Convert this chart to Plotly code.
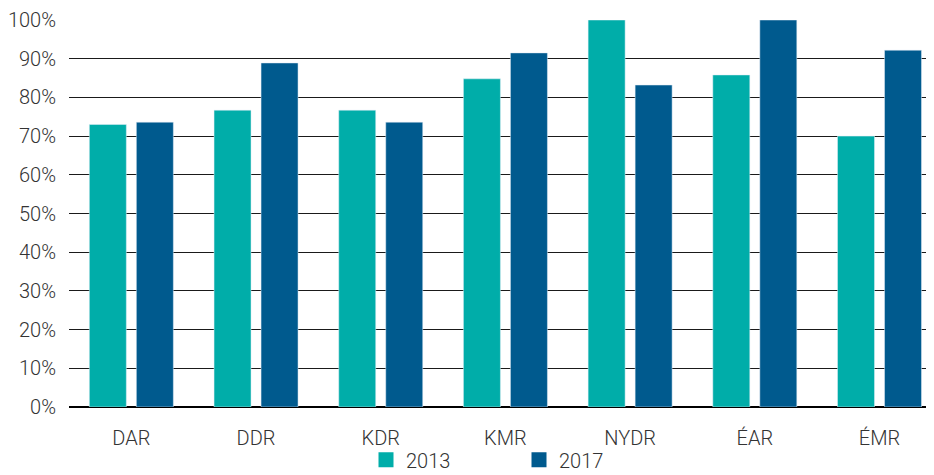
import plotly.graph_objects as go

categories = ["DAR", "DDR", "KDR", "KMR", "NYDR", "ÉAR", "ÉMR"]
values_2013 = [73.0, 76.7, 76.7, 84.8, 100.0, 85.8, 70.0]
values_2017 = [73.6, 88.9, 73.6, 91.5, 83.2, 100.0, 92.2]
series_names = ["2013", "2017"]
series_colors = ["#00ADA9", "#005A8E"]
tick_vals = [0, 10, 20, 30, 40, 50, 60, 70, 80, 90, 100]
tick_text = [f"{v}%" for v in tick_vals]

fig = go.Figure()
for name, vals, col in zip(series_names, [values_2013, values_2017], series_colors):
    fig.add_trace(go.Bar(x=categories, y=vals, name=name, marker_color=col,
                         showlegend=False))
for name, col in zip(series_names, series_colors):
    fig.add_trace(go.Scatter(x=[None], y=[None], mode="markers", name=name,
                             marker=dict(symbol="square", size=15, color=col)))

font = dict(family="Roboto", size=20, color="#333333", weight=300)
# page body has an 8px margin, so the figure is 8px smaller and shifted
fig.update_layout(
    width=926, height=467,
    margin=dict(l=61, r=0, t=12, b=68, autoexpand=False),
    plot_bgcolor="white", paper_bgcolor="white",
    barmode="group", bargap=0.246, bargroupgap=0.213,
    font=font,
    showlegend=True,
    legend=dict(orientation="h", x=(366 - 69) / 865, xanchor="left", y=-0.086, yanchor="top",
                font=font, entrywidth=108, entrywidthmode="pixels",
                itemwidth=30, bgcolor="rgba(0,0,0,0)"),
    xaxis=dict(showgrid=False, ticks="", tickfont=font, showline=False,
               ticklabelstandoff=17, range=[-0.5, 6.437]),
    yaxis=dict(range=[0, 100], tickvals=tick_vals, ticktext=tick_text,
               showgrid=True, gridcolor="#1a1a1a", gridwidth=1,
               zeroline=True, zerolinecolor="#000000", zerolinewidth=1.5,
               tickfont=font, ticks="", ticklabelstandoff=12),
)
fig.write_html("out.html")
